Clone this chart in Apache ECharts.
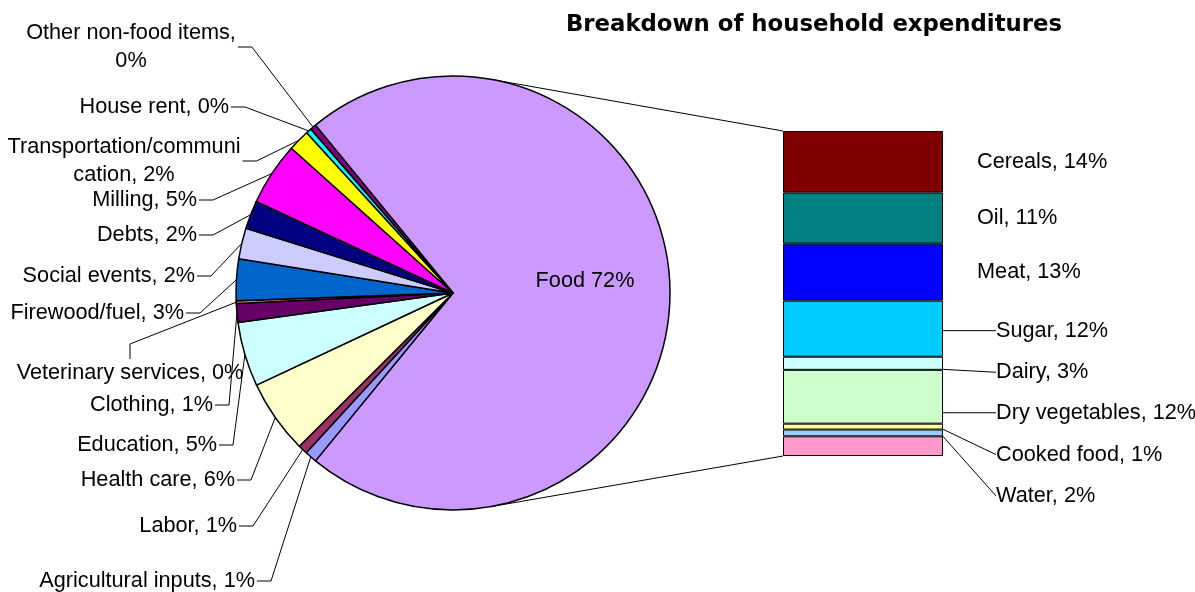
<!DOCTYPE html>
<html>
<head>
<meta charset="utf-8">
<title>Breakdown of household expenditures</title>
<script src="https://cdn.jsdelivr.net/npm/echarts@6/dist/echarts.min.js"></script>
<style>
  html, body { margin: 0; padding: 0; background: #fff; }
  #chart { width: 1195px; height: 592px; }
</style>
</head>
<body>
<div id="chart"></div>
<script>
// share of total household expenditure (%), clockwise from Food
var pieNames = ['Food', 'Agricultural inputs', 'Labor', 'Health care', 'Education', 'Clothing',
  'Veterinary services', 'Firewood/fuel', 'Social events', 'Debts', 'Milling',
  'Transportation/communication', 'House rent', 'Other non-food items']
var pieValues = [71.85, 0.9, 0.7, 5.5, 4.8, 1.4, 0.2, 3.1, 2.3, 2.1, 4.7, 1.6, 0.4, 0.45]
var pieColors = ['#CC99FF', '#9999FF', '#993366', '#FFFFCC', '#CCFFFF', '#660066',
  '#FF8080', '#0066CC', '#CCCCFF', '#000080', '#FF00FF', '#FFFF00', '#00FFFF', '#800080']

// food part, share of total household expenditure (%), top to bottom
var foodNames = ['Cereals', 'Oil', 'Meat', 'Sugar', 'Dairy', 'Dry vegetables', 'Cooked food', 'Water', 'Other food']
var foodValues = [13.6, 11.3, 12.6, 12.4, 2.9, 11.9, 1.3, 1.5, 4.35]
var foodColors = ['#800000', '#008080', '#0000FF', '#00CCFF', '#CCFFFF', '#CCFFCC', '#FFFF99', '#99CCFF', '#FF99CC']

var chartTitle = 'Breakdown of household expenditures'

// layout
var PIE_CX = 453, PIE_CY = 293, PIE_R = 217
var BAR_LEFT = 783, BAR_TOP = 131, BAR_W = 160, BAR_H = 325
var FONT = '"Liberation Sans", Arial, sans-serif'
var FONT_SIZE = 21.7

// label places for the pie (same order as pieNames)
var pieLabelPos = [
  { x: 585, y: 281, align: 'center' },
  { x: 255, y: 581, align: 'right' },
  { x: 237, y: 526, align: 'right' },
  { x: 235, y: 480, align: 'right' },
  { x: 217, y: 445, align: 'right' },
  { x: 213, y: 405, align: 'right' },
  { x: 130, y: 373, align: 'center', side: 'top' },
  { x: 184, y: 313, align: 'right' },
  { x: 195, y: 276, align: 'right' },
  { x: 197, y: 235, align: 'right' },
  { x: 197, y: 200, align: 'right' },
  { x: 124, y: 161, align: 'center', wrap: 22 },
  { x: 229, y: 107, align: 'right' },
  { x: 131, y: 47, align: 'center', wrap: 21 }
]
// bar labels: [dx from bar right edge, dy from segment middle]
var barLabelPos = [[34, 0], [34, 0], [34, 0], [49, 2], [49, 9], [49, 16], [49, 28], [49, 63], [49, 0]]

var pieTotal = pieValues.reduce(function (a, b) { return a + b }, 0)
var foodTotal = foodValues.reduce(function (a, b) { return a + b }, 0)
// food slice centred on the right side, like the excel pie-of-bar
var startAngle = pieValues[0] / pieTotal * 180

function sliceAnchor(i) {
  var before = 0
  for (var k = 0; k < i; k++) before += pieValues[k]
  var a = (startAngle - (before + pieValues[i] / 2) / pieTotal * 360) * Math.PI / 180
  return [PIE_CX + PIE_R * Math.cos(a), PIE_CY - PIE_R * Math.sin(a)]
}

function pieLabelText(p) {
  var pct = Math.round(p.value) + '%'
  if (p.dataIndex === 0) return p.name + ' ' + pct
  var s = p.name + ', ' + pct
  var w = pieLabelPos[p.dataIndex].wrap
  return w ? s.slice(0, w) + '\n' + s.slice(w).trim() : s
}

function pieLabelLayout(params) {
  var pos = pieLabelPos[params.dataIndex]
  var out = { x: pos.x, y: pos.y, align: pos.align, verticalAlign: 'middle' }
  if (params.dataIndex === 0) return out
  var w = params.labelRect.width, h = params.labelRect.height
  var p0, p1
  if (pos.side === 'top') {
    p0 = [pos.x, pos.y - h / 2]
    p1 = [pos.x, pos.y - h / 2 - 15]
  } else {
    var right = pos.align === 'center' ? pos.x + w / 2 : pos.x
    p0 = [right + 2, pos.y]
    p1 = [right + 16, pos.y]
  }
  out.labelLinePoints = [sliceAnchor(params.dataIndex), p1, p0]
  return out
}

var pieData = pieNames.map(function (name, i) {
  var item = { name: name, value: pieValues[i], itemStyle: { color: pieColors[i] } }
  if (i === 0) item.labelLine = { show: false }
  return item
})

var barSeries = foodNames.map(function (name, i) {
  var hasLabel = i < 8
  var hasLine = i >= 3 && i < 8
  return {
    type: 'bar',
    name: name,
    stack: 'food',
    barWidth: '100%',
    silent: true,
    data: [foodValues[i]],
    itemStyle: { color: foodColors[i], borderColor: '#000', borderWidth: 1 },
    label: {
      show: hasLabel,
      position: 'right',
      formatter: name + ', ' + Math.round(foodValues[i]) + '%',
      color: '#000',
      fontSize: FONT_SIZE,
      fontFamily: FONT,
      padding: hasLine ? [0, 0, 0, 4] : 0
    },
    labelLine: { show: hasLine, length2: 0, lineStyle: { color: '#000', width: 1 } },
    labelLayout: function (p) {
      var o = barLabelPos[i]
      return {
        x: p.rect.x + p.rect.width + o[0],
        y: p.rect.y + p.rect.height / 2 + o[1],
        align: 'left',
        verticalAlign: 'middle'
      }
    }
  }
})

var chart = echarts.init(document.getElementById('chart'))

chart.setOption({
  animation: false,
  backgroundColor: '#fff',
  textStyle: { fontFamily: FONT },
  grid: { left: BAR_LEFT, top: BAR_TOP, width: BAR_W, height: BAR_H },
  xAxis: { type: 'category', data: ['Food'], show: false },
  yAxis: { type: 'value', min: 0, max: foodTotal, inverse: true, show: false },
  series: [{
    type: 'pie',
    center: [PIE_CX, PIE_CY],
    radius: PIE_R,
    startAngle: startAngle,
    clockwise: true,
    avoidLabelOverlap: false,
    silent: true,
    emphasis: { disabled: true },
    itemStyle: { borderColor: '#000', borderWidth: 1.5 },
    label: {
      show: true,
      position: 'outside',
      overflow: 'none',
      formatter: pieLabelText,
      color: '#000',
      fontSize: FONT_SIZE,
      lineHeight: 28,
      fontFamily: FONT
    },
    labelLine: { show: true, length: 10, length2: 14, lineStyle: { color: '#000', width: 1 } },
    labelLayout: pieLabelLayout,
    data: pieData
  }].concat(barSeries)
})

// lines from the pie to the bar, tangent to the circle
function tangentPoint(px, py, upper) {
  var dx = px - PIE_CX, dy = py - PIE_CY
  var d = Math.sqrt(dx * dx + dy * dy)
  var phi = Math.atan2(dy, dx)
  var t = Math.acos(PIE_R / d)
  var a = upper ? phi - t : phi + t
  return [PIE_CX + PIE_R * Math.cos(a), PIE_CY + PIE_R * Math.sin(a)]
}

var barTopY = chart.convertToPixel({ yAxisIndex: 0 }, 0)
var barBotY = chart.convertToPixel({ yAxisIndex: 0 }, foodTotal)

chart.setOption({
  graphic: [
    {
      type: 'polyline', z: 1, silent: true,
      shape: { points: [tangentPoint(BAR_LEFT, barTopY, true), [BAR_LEFT, barTopY]] },
      style: { stroke: '#000', lineWidth: 1, fill: null }
    },
    {
      type: 'polyline', z: 1, silent: true,
      shape: { points: [tangentPoint(BAR_LEFT, barBotY, false), [BAR_LEFT, barBotY]] },
      style: { stroke: '#000', lineWidth: 1, fill: null }
    },
    {
      type: 'text', x: 814, y: 25, silent: true,
      style: {
        text: chartTitle, align: 'center', verticalAlign: 'middle', fill: '#000',
        fontFamily: '"DejaVu Sans", sans-serif', fontWeight: 'bold', fontSize: 22.8
      }
    }
  ]
})
</script>
</body>
</html>
